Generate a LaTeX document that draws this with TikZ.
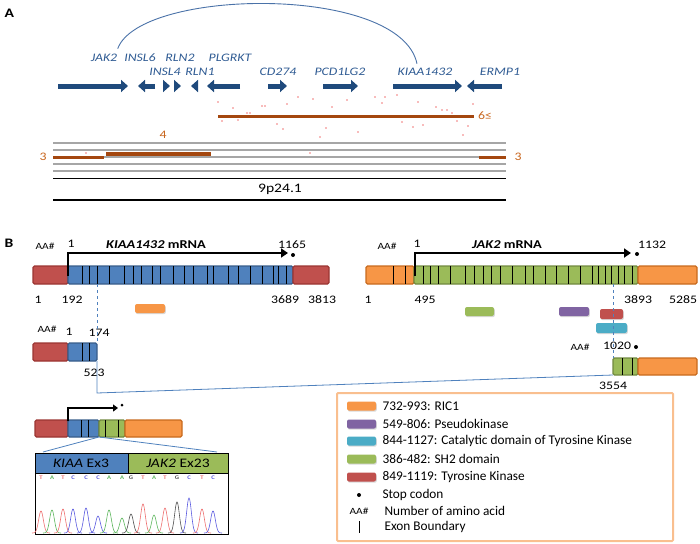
\documentclass[tikz,border=0pt]{standalone}
\usepackage{fontspec}
\setmainfont{Carlito}[FakeStretch=1.2]
\newfontfamily\legfont{Carlito}
\usetikzlibrary{arrows.meta,shadows}
\definecolor{genearrow}{HTML}{1F4A7C}
\definecolor{genetext}{HTML}{2F5B93}
\definecolor{arcblue}{HTML}{4A72A8}
\definecolor{cnvbrown}{HTML}{A4470F}
\definecolor{cnvtext}{HTML}{C8661E}
\definecolor{dotpink}{HTML}{F07878}
\definecolor{kred}{HTML}{C0504D}
\definecolor{kredline}{HTML}{9B3532}
\definecolor{kblue}{HTML}{4F81BD}
\definecolor{kblueline}{HTML}{385D8A}
\definecolor{jorange}{HTML}{F79646}
\definecolor{jorangeline}{HTML}{C86A1E}
\definecolor{jgreen}{HTML}{9BBB59}
\definecolor{jgreenline}{HTML}{71893F}
\definecolor{dompurple}{HTML}{8064A2}
\definecolor{domcyan}{HTML}{4BACC6}
\definecolor{legline}{HTML}{F9BF8F}
\definecolor{basered}{HTML}{EE7070}
\definecolor{basegreen}{HTML}{5FB85F}
\definecolor{baseblue}{HTML}{5A5AE0}
\definecolor{baseblack}{HTML}{505050}
\begin{document}
\begin{tikzpicture}[x=1pt,y=-1pt,
  panel/.style={anchor=west,font=\fontsize{13}{15}\selectfont\bfseries},
  gene/.style={text=genetext,font=\fontsize{11.5}{13}\selectfont\itshape},
  genebar/.style={genearrow,line width=5pt,-{Triangle[width=12pt,length=7pt]}},
  cnv/.style={cnvbrown,line width=3pt},
  cnvlabel/.style={text=cnvtext,font=\fontsize{11.5}{13}\selectfont},
  band/.style={black!35,line width=1.2pt},
  num/.style={font=\fontsize{11.5}{13}\selectfont},
  aa/.style={font=\fontsize{9.5}{11}\selectfont},
  mrna/.style={font=\fontsize{12}{14}\selectfont\bfseries},
  seg/.style={line width=1.2pt,rounded corners=1.5pt},
  kiaaend/.style={seg,fill=kred,draw=kredline},
  kiaacds/.style={seg,fill=kblue,draw=kblueline},
  jakend/.style={seg,fill=jorange,draw=jorangeline},
  jakcds/.style={seg,fill=jgreen,draw=jgreenline},
  exon/.style={line width=0.9pt},
  orf/.style={line width=2.5pt,-{Triangle[width=9pt,length=7pt]}},
  stopdot/.style={circle,fill,inner sep=0pt,minimum size=4pt},
  protdom/.style={rounded corners=2pt,drop shadow={opacity=0.3,shadow xshift=0.8pt,shadow yshift=-1.2pt}},
  link/.style={kblue,line width=0.8pt},
  linkdash/.style={link,dashed},
  legtext/.style={anchor=west,font=\legfont\fontsize{13.3}{15}\selectfont}]
\useasboundingbox (0,0) rectangle (700,543);

\node[panel] (pa) at (1,13) {A};
\node[gene] (jak2) at (104,58) {JAK2};
\node[gene] (insl6) at (140,58) {INSL6};
\node[gene] (rln2) at (180,58) {RLN2};
\node[gene] (plgrkt) at (230,58) {PLGRKT};
\node[gene] (insl4) at (165,72) {INSL4};
\node[gene] (rln1) at (200,72) {RLN1};
\node[gene] (cd274) at (278,72) {CD274};
\node[gene] (pcd1lg2) at (340,72) {PCD1LG2};
\node[gene] (kiaa) at (425,72) {KIAA1432};
\node[gene] (ermp1) at (500,72) {ERMP1};
\draw[arcblue,line width=0.9pt] ([xshift=-3pt,yshift=2pt]jak2.north east) .. controls (140,-12) and (400,-16) .. ([xshift=-8pt,yshift=1pt]kiaa.north);

\draw[genebar] (58,86) -- (128,86);
\draw[genebar] (155,86) -- (138,86);
\draw[genebar] (163,86) -- (170,86);
\draw[genebar] (177,86) -- (181,86);
\draw[genebar] (195,86) -- (191,86);
\draw[genebar] (240,86) -- (207,86);
\draw[genebar] (268,86) -- (287,86);
\draw[genebar] (323,86) -- (358,86);
\draw[genebar] (393,86) -- (462,86);
\draw[genebar] (502,86) -- (467,86);

\foreach \dx/\dy in {218/102,233/108,247/113,250/113,262/106,265/106,287/104,298/97,313/99,332/107,347/100,
  222/121,238/120,277/124,283/129,320/137,326/128,310/153,375/97,382/103,385/97,397/95,418/102,436/107,
  442/110,447/110,452/113,473/104,402/122,413/127,423/125,457/121,468/126,358/132,463/135,86/153,178/150,195/157}
  \fill[dotpink] (\dx,\dy) circle (0.9);

\draw[cnv] (218,116) -- (474,116);
\node[cnvlabel] (cnv6) at (485,116) {6≤};

\foreach \by in {143,150,157,164,171}
  \draw[band] (53,\by) -- (506,\by);
\draw[line width=1pt] (53,178) -- (506,178);
\draw[line width=1.3pt] (53,200) -- (506,200);
\draw[cnv] (53,157) -- (104,157);
\draw[cnvbrown,line width=4pt] (106,153.5) -- (211,153.5);
\draw[cnv] (479,157) -- (506,157);
\node[cnvlabel] (cnv3a) at (43,157) {3};
\node[cnvlabel] (cnv4) at (163,135) {4};
\node[cnvlabel] (cnv3b) at (518,157) {3};
\node[font=\fontsize{13}{15}\selectfont] (band) at (280,189) {9p24.1};

\node[panel] (pb) at (1,243) {B};

\node[aa] (kaa) at (45,246) {AA\#};
\node[num] (kaa1) at (71,244) {1};
\node[mrna] (kmrna) at (156,245) {\textit{KIAA1432} mRNA};
\node[num] (kaa2) at (292,245) {1165};
\draw[kiaaend] (33,266) rectangle (68,284);
\draw[kiaacds] (68,266) rectangle (293,284);
\draw[kiaaend] (293,266) rectangle (329,284);
\foreach \x in {82,89,97,109,124,133,141,152,160,173,184,193,207,213,228,238,250,262,273,278,286}
  \draw[exon] (\x,266) -- (\x,284);
\draw[orf] (68,276) -- (68,253) -- (288,253);
\node[stopdot] (kstop) at (293,255) {};
\node[num] (kn1) at (38,300) {1};
\node[num] (kn2) at (72,300) {192};
\node[num] (kn3) at (285,300) {3689};
\node[num] (kn4) at (322,300) {3813};
\fill[jorange,protdom] (135,304) rectangle (165,313);

\node[aa] (kaa3) at (47,329) {AA\#};
\node[num] (kaa4) at (69,332) {1};
\node[num] (kaa5) at (99,333) {174};
\draw[kiaaend] (33,343) rectangle (68,361);
\draw[kiaacds] (68,343) rectangle (97,361);
\foreach \x in {82,89}
  \draw[exon] (\x,343) -- (\x,361);
\node[num] (kn5) at (94,373) {523};

\node[aa] (jaa) at (387,246) {AA\#};
\node[num] (jaa1) at (417,244) {1};
\node[mrna] (jmrna) at (507,245) {\textit{JAK2} mRNA};
\node[num] (jaa2) at (652,245) {1132};
\draw[jakend] (366,266) rectangle (414,284);
\draw[jakcds] (414,266) rectangle (638,284);
\draw[jakend] (638,266) rectangle (697,284);
\foreach \x in {393,405,423,430,438,450,465,474,483,491,500,512,525,533,545,556,568,580,592,598,605,611,618,624,632}
  \draw[exon] (\x,266) -- (\x,284);
\draw[orf] (415,276) -- (415,253) -- (631,253);
\node[stopdot] (jstop) at (637,254) {};
\node[num] (jn1) at (368,300) {1};
\node[num] (jn2) at (425,300) {495};
\node[num] (jn3) at (638,300) {3893};
\node[num] (jn4) at (683,300) {5285};
\fill[jgreen,protdom] (465,307) rectangle (494,316);
\fill[dompurple,protdom] (559,307) rectangle (589,316);
\fill[kred,protdom] (600,309) rectangle (623,319);
\fill[domcyan,protdom] (596,323) rectangle (627,333);

\node[aa] (jaa3) at (580,347) {AA\#};
\node[num] (jaa4) at (617,346) {1020};
\node[stopdot] (jstop2) at (636,347) {};
\draw[jakcds] (613,358) rectangle (638,375);
\draw[jakend] (638,358) rectangle (697,375);
\foreach \x in {622,632}
  \draw[exon] (\x,358) -- (\x,375);
\node[num] (jn5) at (613,386) {3554};

\coordinate (kcut) at (97,284);
\coordinate (kcut2) at (97,343);
\coordinate (kcut3) at (97,361);
\coordinate (kbend) at (97,393);
\coordinate (jcut) at (613,284);
\coordinate (jcut2) at (613,358);
\coordinate (jcut3) at (613,375);
\draw[linkdash] (kcut) -- (kcut2);
\draw[linkdash] (jcut) -- (jcut2);
\draw[link] (kcut3) -- (kbend) -- (jcut3);

\draw[kiaaend] (35,420) rectangle (68,437);
\draw[kiaacds] (68,420) rectangle (99,437);
\draw[jakcds] (99,420) rectangle (125,437);
\draw[jakend] (125,420) rectangle (182,437);
\foreach \x in {81,88,105,118}
  \draw[exon] (\x,420) -- (\x,437);
\draw[orf,line width=2pt,-{Triangle[width=7pt,length=5pt]}] (68,421) -- (68,408) -- (118,408);
\node[stopdot,minimum size=3pt] (fstop) at (122,405) {};

\coordinate (fjoin) at (99,437);
\coordinate (zoomL) at (43,452);
\coordinate (zoomR) at (217,452);
\draw[link] (zoomL) -- (fjoin) -- (zoomR);
\draw[fill=white,line width=1pt] (35,453) rectangle (228,534);
\draw[fill=kblue,line width=1pt] (35,453) rectangle (128,473);
\draw[fill=jgreen,line width=1pt] (128,453) rectangle (228,473);
\node[font=\fontsize{13}{15}\selectfont] (kex) at (81,463) {\textit{KIAA} Ex3};
\node[font=\fontsize{13}{15}\selectfont] (jex) at (178,463) {\textit{JAK2} Ex23};
\foreach \px/\pb/\pc/\ph in {41/T/basered/22,52/A/basegreen/23,63/T/basered/24,73/C/baseblue/24,
  86/C/baseblue/25,98/C/baseblue/17,109/A/basegreen/23,122/A/basegreen/15,131/G/baseblack/19,
  143/T/basered/29,154/A/basegreen/18,165/T/basered/25,177/G/baseblack/31,189/C/baseblue/35,
  202/T/basered/24,213/C/baseblue/22}
{
  \node[text=\pc,font=\fontsize{5.5}{6}\selectfont\bfseries,inner sep=0pt] at (\px,478) {\pb};
  \draw[\pc,line width=0.6pt] plot[domain=\px-9:\px+9,samples=31,smooth] (\x,{533-\ph*exp(-((\x-\px)/3.3)^2)});
}

\draw[legline,line width=2pt,rounded corners=1pt] (337,393) rectangle (673,541);
\foreach \ly/\lc/\lt in {406/jorange/732-993: RIC1,424/dompurple/549-806: Pseudokinase,
  441/domcyan/844-1127: Catalytic domain of Tyrosine Kinase,459/jgreen/386-482: SH2 domain,
  477/kred/849-1119: Tyrosine Kinase}
{
  \fill[\lc,protdom] (347,\ly-4.5) rectangle (376,\ly+4.5);
  \node[legtext] at (379,\ly) {\lt};
}
\node[stopdot] (lstop) at (359,495) {};
\node[legtext] (lstoptxt) at (379,495) {Stop codon};
\node[aa] (laa) at (359,511) {AA\#};
\node[legtext] (laatxt) at (381,511) {Number of amino acid};
\draw[line width=1pt] (359,521) -- (359,533);
\node[legtext] (lexon) at (381,527) {Exon Boundary};
\end{tikzpicture}
\end{document}
